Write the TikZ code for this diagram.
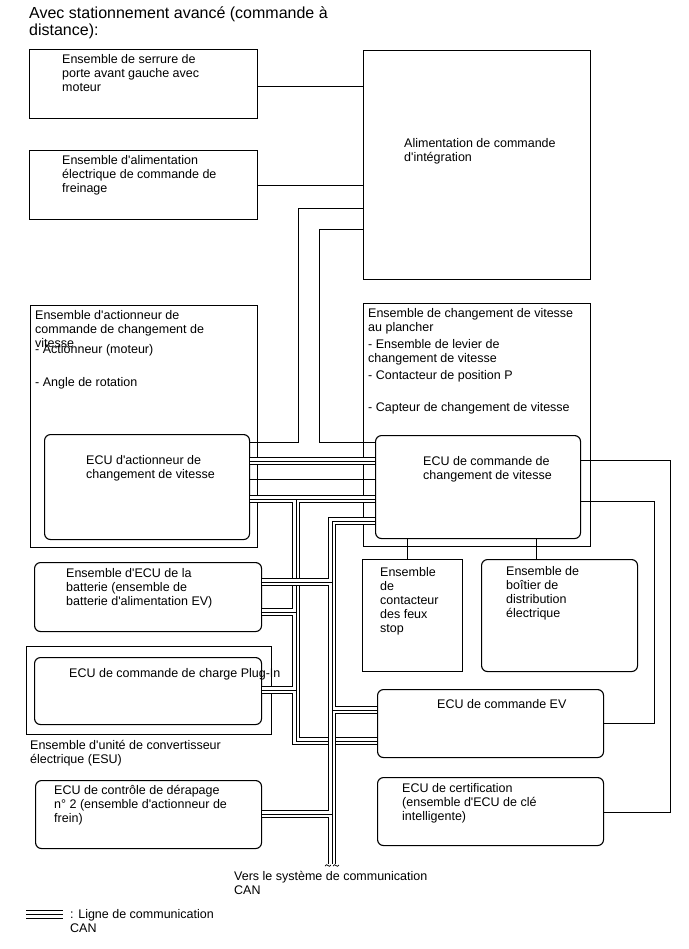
\documentclass[tikz,border=0pt]{standalone}
\usepackage{fontspec}
\setmainfont{Liberation Sans}[Ligatures=TeXOff]
\usepackage{tikz}

\tikzset{
  box/.style={draw, line width=1.1pt, anchor=north west, inner sep=0pt},
  rbox/.style={box, rounded corners=6pt},
  txt/.style={anchor=base west, align=left, inner sep=0pt, font=\fontsize{12.5}{14}\selectfont},
  sig/.style={line width=1pt},
  can/.style={line width=8.8pt, postaction={draw=white, line width=6.2pt}, postaction={draw, line width=0.8pt}}
}

\begin{document}
\begin{tikzpicture}[x=1pt, y=-1pt]
    \useasboundingbox (0,0) rectangle (688,949);

    % texts sit on the baseline of their last line
    \node[txt, font=\fontsize{16}{17}\selectfont] (title) at (29,36) {Avec stationnement avancé (commande à\\distance):};

    % upper boxes
    \node[box, minimum width=228pt, minimum height=69pt] (lock) at (29,49) {};
    \node[box, minimum width=228pt, minimum height=69pt] (brakesup) at (29,150) {};
    \node[box, minimum width=227pt, minimum height=229pt] (alim) at (363,50) {};
    \node[txt] (locktxt) at (62,92) {Ensemble de serrure de\\porte avant gauche avec\\moteur};
    \node[txt] (brakesuptxt) at (62,193) {Ensemble d'alimentation\\électrique de commande de\\freinage};
    \node[txt] (alimtxt) at (404,162) {Alimentation de commande\\d'intégration};

    % shift actuator and floor shift
    \node[box, minimum width=227pt, minimum height=242pt] (actasm) at (30,305) {};
    \node[box, minimum width=227pt, minimum height=243pt] (floor) at (363,303) {};
    \node[rbox, minimum width=205pt, minimum height=105pt] (actecu) at (44,434) {};
    \node[rbox, minimum width=205pt, minimum height=103pt] (shiftecu) at (375,435) {};
    \node[txt] (actasmtxt) at (35,347) {Ensemble d'actionneur de\\commande de changement de\\vitesse};
    \node[txt] (acttxt) at (35,353) {- Actionneur (moteur)};
    \node[txt] (angtxt) at (35,386) {- Angle de rotation};
    \node[txt] (floortxt) at (368,411) {Ensemble de changement de vitesse\\au plancher\\[3pt]- Ensemble de levier de\\changement de vitesse\\[3pt]- Contacteur de position P\\[18pt]- Capteur de changement de vitesse};
    \node[txt] (actecutxt) at (86,478) {ECU d'actionneur de\\changement de vitesse};
    \node[txt] (shiftecutxt) at (423,479) {ECU de commande de\\changement de vitesse};

    % lower boxes
    \node[box, minimum width=100pt, minimum height=112pt] (stop) at (362,559) {};
    \node[rbox, minimum width=156pt, minimum height=112pt] (jbox) at (481,559) {};
    \node[rbox, minimum width=227pt, minimum height=69pt] (batt) at (34,562) {};
    \node[box, minimum width=245pt, minimum height=88pt] (esu) at (26,646) {};
    \node[rbox, minimum width=227pt, minimum height=67pt] (plugin) at (34,657) {};
    \node[rbox, minimum width=226pt, minimum height=68pt] (brake) at (35,780) {};
    \node[rbox, minimum width=226pt, minimum height=68pt] (ev) at (377,689) {};
    \node[rbox, minimum width=226pt, minimum height=68pt] (cert) at (377,777) {};
    \node[txt] (stoptxt) at (380,632) {Ensemble\\de\\contacteur\\des feux\\stop};
    \node[txt] (jboxtxt) at (506,617) {Ensemble de\\boîtier de\\distribution\\électrique};
    \node[txt] (batttxt) at (66,605) {Ensemble d'ECU de la\\batterie (ensemble de\\batterie d'alimentation EV)};
    \node[txt] (plugintxt) at (69,677) {ECU de commande de charge Plug-In};
    \node[txt] (esutxt) at (30,763) {Ensemble d'unité de convertisseur\\électrique (ESU)};
    \node[txt] (braketxt) at (54,822) {ECU de contrôle de dérapage\\n° 2 (ensemble d'actionneur de\\frein)};
    \node[txt] (evtxt) at (437,708) {ECU de commande EV};
    \node[txt] (certtxt) at (402,820) {ECU de certification\\(ensemble d'ECU de clé\\intelligente)};

    % signal lines
    \draw[sig] ([yshift=-2.5pt]lock.east) -- ([yshift=-2.5pt]lock.east -| alim.west);
    \draw[sig] (brakesup.east) -- (brakesup.east -| alim.west);
    \draw[sig] (actecu.east |- 0,442) -| (298,209) -- (alim.west |- 0,209);
    \draw[sig] (shiftecu.west |- 0,442) -| (319,230) -- (alim.west |- 0,230);
    \draw[sig] (actecu.east |- 0,479) -- (shiftecu.west |- 0,479);
    \draw[sig] (shiftecu.east |- 0,460) -| (670,812) -- (cert.east |- 0,812);
    \draw[sig] (shiftecu.east |- 0,501) -| (654,723) -- (ev.east |- 0,723);
    \draw[sig] (shiftecu.south -| 407,0) -- (stop.north -| 407,0);
    \draw[sig] (shiftecu.south -| 536,0) -- (jbox.north -| 536,0);

    % CAN lines
    \draw[can] (actecu.east |- 0,461) -- (shiftecu.west |- 0,461);
    \draw[can] (actecu.east |- 0,499) -- (shiftecu.west |- 0,499)
        (296,499) |- (ev.west |- 0,741)
        (batt.east |- 0,612) -- (296,612)
        (plugin.east |- 0,690) -- (296,690);
    \draw[can] (shiftecu.west |- 0,521) -| (332,864)
        (batt.east |- 0,582) -- (332,582)
        (332,710) -- (ev.west |- 0,710)
        (brake.east |- 0,814) -- (332,814);
    \draw[line width=0.7pt] (325,866) .. controls (327,862) and (329,869) .. (331,865);
    \draw[line width=0.7pt] (333,866) .. controls (335,862) and (337,869) .. (339,865);
    \node[txt] (verstxt) at (234,894) {Vers le système de communication\\CAN};

    % legend
    \coordinate (leg1) at (26,914.5);
    \coordinate (leg2) at (63,914.5);
    \draw[can] (leg1) -- (leg2);
    \node[txt] (legtxt) at (70,932) {: Ligne de communication\\CAN};
\end{tikzpicture}
\end{document}
